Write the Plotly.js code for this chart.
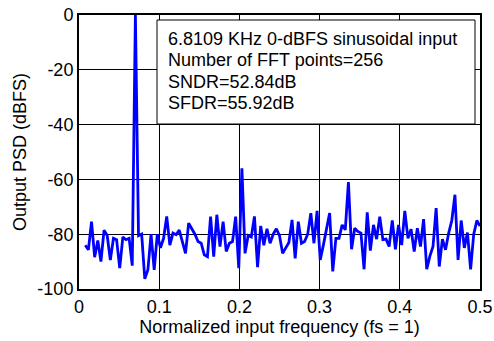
<!DOCTYPE html>
<html>
<head>
<meta charset="utf-8">
<script src="https://cdn.plot.ly/plotly-3.0.1.min.js"></script>
<style>
  html, body { margin: 0; padding: 0; background: #fff; }
  #chart { width: 494px; height: 341px; }
</style>
</head>
<body>
<div id="chart"></div>
<script>
// FFT settings
const NFFT = 256;
const firstBin = 2;

// Output PSD (dBFS) for bins 2..128
const psd = [
  -84, -85.7, -75.4, -88.4, -82.3, -90, -78.5, -80.5, -89.4, -81.5,
  -82, -92.4, -81, -82, -81.5, -91.5, 0, -80.5, -80, -96.3,
  -93, -80, -93, -80, -85, -81.5, -73.5, -84, -79.6, -80.2,
  -78.5, -83, -87, -76, -78, -80, -82.7, -83.3, -87.5, -88.2,
  -73.6, -88.2, -72.9, -84.5, -75.4, -86.3, -83.3, -82.7, -73.6, -92.4,
  -55.92, -87, -80.5, -81, -73.5, -92, -77, -84, -78, -83.3,
  -80, -78, -80.5, -87, -85, -83, -74.8, -88.8, -75.4, -83.3,
  -82.7, -80, -72.3, -83.3, -71.5, -89.4, -84, -78, -72.3, -93.6,
  -81.5, -81.5, -76.6, -78.4, -61, -85.5, -77.8, -79, -79.6, -92.8,
  -72, -86, -76.6, -81.8, -73.6, -82, -81.8, -84.5, -75, -85.5,
  -76.6, -84, -71.5, -81.5, -78.2, -86.3, -77.8, -84.5, -74.5, -92.8,
  -88, -84.5, -70.5, -91.8, -81.8, -85.7, -79.6, -75, -65.6, -89.4,
  -75, -85, -79.4, -92.8, -80, -75, -77
];

const xTicks = [0, 0.1, 0.2, 0.3, 0.4, 0.5];
const xTickText = ['0', '0.1', '0.2', '0.3', '0.4', '0.5'];
const yTicks = [-100, -80, -60, -40, -20, 0];
const yTickText = ['-100', '-80', '-60', '-40', '-20', '0'];

const infoLines = [
  '6.8109 KHz 0-dBFS sinusoidal input',
  'Number of FFT points=256',
  'SNDR=52.84dB',
  'SFDR=55.92dB'
];

const FONT = 'Arial, "Liberation Sans", Helvetica, sans-serif';

const trace = {
  type: 'scatter',
  mode: 'lines',
  x0: firstBin / NFFT,
  dx: 1 / NFFT,
  y: psd,
  line: { color: '#0000ff', width: 2.8 },
  hoverinfo: 'skip',
  cliponaxis: true
};

const lineY = [37.5, 59, 80.7, 102.3];
const annotations = infoLines.map((t, i) => ({
  xref: 'paper', yref: 'paper',
  x: (166 - 79) / 401,
  y: (289 - (lineY[i] + 1)) / 274,
  xanchor: 'left', yanchor: 'middle',
  text: t, showarrow: false,
  font: { family: FONT, size: 18, color: '#000' }
}));

const layout = {
  width: 494, height: 341,
  margin: { l: 79, r: 14, t: 15, b: 52 },
  paper_bgcolor: '#fff',
  plot_bgcolor: '#fff',
  showlegend: false,
  font: { family: FONT, size: 18, color: '#000' },
  xaxis: {
    range: [0, 0.5],
    tickvals: xTicks, ticktext: xTickText,
    showgrid: true, gridcolor: '#000', gridwidth: 1,
    zeroline: false,
    showline: true, linecolor: '#000', linewidth: 2, mirror: true,
    ticks: '',
    tickfont: { family: FONT, size: 18, color: '#000' },
    title: { text: 'Normalized input frequency (fs = 1)', font: { family: FONT, size: 18, color: '#000' }, standoff: 4 }
  },
  yaxis: {
    range: [-100, 0],
    tickvals: yTicks, ticktext: yTickText,
    showgrid: true, gridcolor: '#000', gridwidth: 1,
    zeroline: false,
    showline: true, linecolor: '#000', linewidth: 2, mirror: true,
    ticks: '',
    tickfont: { family: FONT, size: 18, color: '#000' },
    title: { text: 'Output PSD (dBFS)', font: { family: FONT, size: 18, color: '#000' }, standoff: 6 }
  },
  shapes: [{
    type: 'rect', xref: 'paper', yref: 'paper',
    x0: (157 - 79) / 401, x1: (475 - 79) / 401,
    y0: (289 - 124) / 274, y1: (289 - 20) / 274,
    fillcolor: '#fff', line: { color: '#000', width: 1 },
    layer: 'above'
  }],
  annotations: annotations
};

Plotly.newPlot('chart', [trace], layout, { displayModeBar: false, staticPlot: true });
</script>
</body>
</html>
